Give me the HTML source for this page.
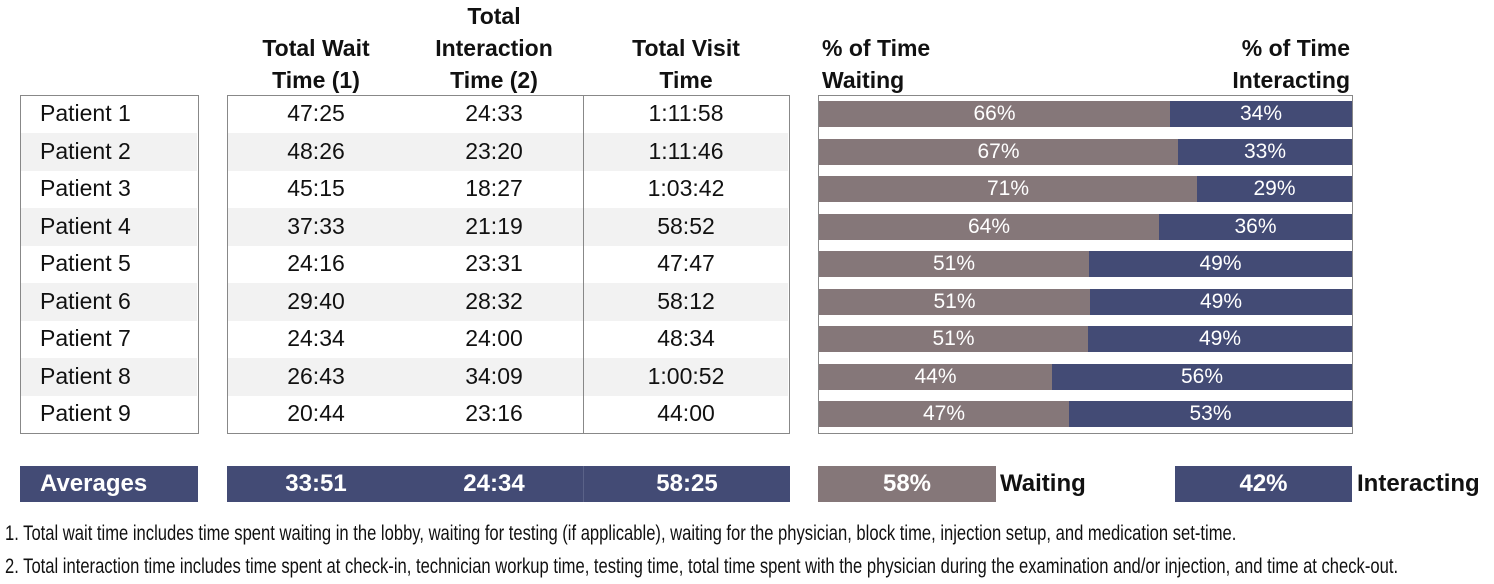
<!DOCTYPE html><html><head><style>
body{margin:0;width:1494px;height:584px;background:#fff;position:relative;overflow:hidden;font-family:"Liberation Sans",Arial,sans-serif;color:#111}
.a{position:absolute}
.h{font-weight:bold;font-size:23px;text-align:center;line-height:32px}
.box{position:absolute;border:1.5px solid #888;box-sizing:border-box}
.t{position:absolute;font-size:23px;line-height:37.5px}
.c{text-align:center}
.bar{position:absolute;height:26px;color:#fff;font-size:21px;line-height:26px;text-align:center}
.w{background:#857779}.i{background:#434b75}
.avg{position:absolute;top:466px;height:36px;background:#434b75;color:#fff;font-weight:bold;font-size:24px;line-height:36px;text-align:center}
.fn{position:absolute;left:5px;font-size:21px;transform-origin:0 0;transform:scaleX(0.79);white-space:nowrap;color:#111}
</style></head><body>
<div class="a h" style="left:227px;width:178px;top:32px">Total Wait<br>Time (1)</div>
<div class="a h" style="left:405px;width:178px;top:0">Total<br>Interaction<br>Time (2)</div>
<div class="a h" style="left:583px;width:206px;top:32px">Total Visit<br>Time</div>
<div class="a h" style="left:822px;top:32px;text-align:left">% of Time<br>Waiting</div>
<div class="a h" style="left:1150px;width:200px;top:32px;text-align:right">% of Time<br>Interacting</div>

<div class="a" style="left:21px;top:133px;width:176px;height:37.5px;background:#f2f2f2"></div>
<div class="a" style="left:21px;top:208px;width:176px;height:37.5px;background:#f2f2f2"></div>
<div class="a" style="left:21px;top:283px;width:176px;height:37.5px;background:#f2f2f2"></div>
<div class="a" style="left:21px;top:358px;width:176px;height:37.5px;background:#f2f2f2"></div>
<div class="a" style="left:228px;top:133px;width:560px;height:37.5px;background:#f2f2f2"></div>
<div class="a" style="left:228px;top:208px;width:560px;height:37.5px;background:#f2f2f2"></div>
<div class="a" style="left:228px;top:283px;width:560px;height:37.5px;background:#f2f2f2"></div>
<div class="a" style="left:228px;top:358px;width:560px;height:37.5px;background:#f2f2f2"></div>

<div class="box" style="left:20px;top:95px;width:179px;height:339px"></div>
<div class="box" style="left:227px;top:95px;width:563px;height:339px"></div>
<div class="a" style="left:583px;top:95px;width:1px;height:339px;background:#888"></div>
<div class="box" style="left:818px;top:95px;width:535px;height:339px"></div>

<div id="rows"></div>
<script>
var d=[["47:25","24:33","1:11:58",66,1170],["48:26","23:20","1:11:46",67,1178],["45:15","18:27","1:03:42",71,1197],["37:33","21:19","58:52",64,1159],["24:16","23:31","47:47",51,1089],["29:40","28:32","58:12",51,1090],["24:34","24:00","48:34",51,1088],["26:43","34:09","1:00:52",44,1052],["20:44","23:16","44:00",47,1069]];
var h="";
d.forEach(function(r,k){var y=95+k*37.5;
h+='<div class="t" style="left:40px;top:'+y+'px">Patient '+(k+1)+'</div>';
h+='<div class="t c" style="left:227px;width:178px;top:'+y+'px">'+r[0]+'</div>';
h+='<div class="t c" style="left:405px;width:178px;top:'+y+'px">'+r[1]+'</div>';
h+='<div class="t c" style="left:583px;width:206px;top:'+y+'px">'+r[2]+'</div>';
var by=y+6;
h+='<div class="bar w" style="left:819px;top:'+by+'px;width:'+(r[4]-819)+'px">'+r[3]+'%</div>';
h+='<div class="bar i" style="left:'+r[4]+'px;top:'+by+'px;width:'+(1352-r[4])+'px">'+(100-r[3])+'%</div>';});
document.getElementById("rows").innerHTML=h;
</script>

<div class="avg" style="left:20px;width:178px;text-align:left;padding-left:20px;box-sizing:border-box">Averages</div>
<div class="avg" style="left:227px;width:178px">33:51</div>
<div class="avg" style="left:405px;width:178px">24:34</div>
<div class="avg" style="left:583px;width:206px;border-left:1px solid #5a6288">58:25</div>
<div class="avg" style="left:818px;width:178px;background:#857779">58%</div>
<div class="a" style="left:1000px;top:466px;line-height:36px;font-weight:bold;font-size:24px">Waiting</div>
<div class="avg" style="left:1175px;width:177px">42%</div>
<div class="a" style="left:1357px;top:466px;line-height:36px;font-weight:bold;font-size:24px">Interacting</div>

<div class="fn" style="top:522px">1. Total wait time includes time spent waiting in the lobby, waiting for testing (if applicable), waiting for the physician, block time, injection setup, and medication set-time.</div>
<div class="fn" style="top:555px">2. Total interaction time includes time spent at check-in, technician workup time, testing time, total time spent with the physician during the examination and/or injection, and time at check-out.</div>
</body></html>
